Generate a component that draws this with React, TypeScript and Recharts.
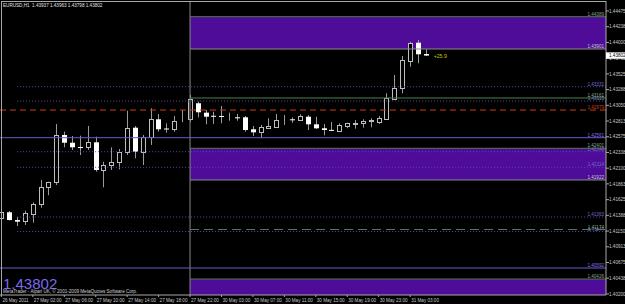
import React from 'react';
import { ComposedChart, Bar, XAxis, YAxis, ReferenceLine, ReferenceArea, ReferenceDot } from 'recharts';

// ---- data (EURUSD H1, 26 May 2011 22:00 .. 31 May 2011 05:00) ----
const opens = [
  1.41348, 1.41434, 1.41317, 1.41302, 1.41408, 1.41559, 1.41820, 1.41887, 1.42602, 1.42485,
  1.42420, 1.42416, 1.42491, 1.42073, 1.42153, 1.42189, 1.42340, 1.42712, 1.42349, 1.42576,
  1.42839, 1.42700, 1.42692, 1.42836, 1.42839, 1.43081, 1.42939, 1.42892, 1.42889, 1.42874,
  1.42869, 1.42869, 1.42688, 1.42652, 1.42703, 1.42727, 1.42836, 1.42839, 1.42828, 1.42878,
  1.42763, 1.42703, 1.42679, 1.42667, 1.42742, 1.42768, 1.42778, 1.42816, 1.42794, 1.42839,
  1.43146, 1.43307, 1.43724, 1.43996, 1.43825,
];
const highs = [
  1.41453, 1.41453, 1.41363, 1.41458, 1.41585, 1.41922, 1.41895, 1.42768, 1.42652, 1.42587,
  1.42591, 1.42738, 1.42576, 1.42198, 1.42416, 1.42390, 1.42969, 1.42738, 1.42602, 1.43005,
  1.42919, 1.42778, 1.42889, 1.42979, 1.43206, 1.43105, 1.42979, 1.42954, 1.43040, 1.42939,
  1.42919, 1.42889, 1.42738, 1.42753, 1.42854, 1.42919, 1.42904, 1.42869, 1.42914, 1.42904,
  1.42878, 1.42768, 1.42798, 1.42778, 1.42787, 1.42828, 1.42839, 1.42854, 1.42889, 1.43232,
  1.43508, 1.43795, 1.44011, 1.44037, 1.43896,
];
const lows = [
  1.41333, 1.41310, 1.41227, 1.41242, 1.41277, 1.41503, 1.41691, 1.41846, 1.42416, 1.42375,
  1.42299, 1.42375, 1.42047, 1.41811, 1.42073, 1.42083, 1.42299, 1.42250, 1.42148, 1.42451,
  1.42652, 1.42636, 1.42652, 1.42794, 1.42798, 1.42869, 1.42763, 1.42768, 1.42778, 1.42818,
  1.42818, 1.42652, 1.42587, 1.42552, 1.42697, 1.42718, 1.42753, 1.42787, 1.42818, 1.42677,
  1.42692, 1.42597, 1.42662, 1.42662, 1.42703, 1.42697, 1.42712, 1.42718, 1.42768, 1.42828,
  1.43138, 1.43232, 1.43634, 1.43685, 1.43795,
];
const closes = [
  1.41438, 1.41317, 1.41292, 1.41419, 1.41559, 1.41820, 1.41887, 1.42602, 1.42485, 1.42416,
  1.42413, 1.42491, 1.42073, 1.42153, 1.42189, 1.42340, 1.42712, 1.42349, 1.42576, 1.42839,
  1.42688, 1.42692, 1.42818, 1.42842, 1.43150, 1.42945, 1.42878, 1.42886, 1.42887, 1.42880,
  1.42866, 1.42677, 1.42642, 1.42718, 1.42738, 1.42828, 1.42840, 1.42836, 1.42889, 1.42763,
  1.42703, 1.42677, 1.42677, 1.42748, 1.42778, 1.42787, 1.42809, 1.42821, 1.42854, 1.43156,
  1.43307, 1.43735, 1.43996, 1.43821, 1.43802,
];

const timeTickIdx = [0, 4, 8, 12, 16, 20, 24, 28, 32, 36, 40, 44, 48, 52];
const timeLabels = [
  '26 May 2011', '27 May 02:00', '27 May 06:00', '27 May 10:00', '27 May 14:00', '27 May 18:00',
  '27 May 22:00', '30 May 03:00', '30 May 07:00', '30 May 11:00', '30 May 15:00', '30 May 19:00',
  '30 May 23:00', '31 May 03:00',
];

const priceTicks = [
  1.44475, 1.44238, 1.44000, 1.43763, 1.43525, 1.43288, 1.43050, 1.42813, 1.42575, 1.42338,
  1.42100, 1.41863, 1.41625, 1.41388, 1.41150, 1.40913, 1.40675, 1.40438, 1.40200,
];

const headerText = 'EURUSD,H1  1.43937 1.43963 1.43798 1.43802';
const copyrightText = 'MetaTrader - Alpari UK, \u00A9 2001-2009 MetaQuotes Software Corp.';
const profitText = '+25.9';

// chart objects (prices)
const objStartIdx = 24;
const dotStartIdx = 2;
const rectBands = [[1.44389, 1.43901], [1.42401, 1.41922], [1.40426, 1.401843]];
const greenLines = [1.44389, 1.43161, 1.42401, 1.40426];
const greyLines = [1.43901, 1.41922];
const dottedLines = [1.43331, 1.43115, 1.42349, 1.42114, 1.41363, 1.41144];
const greenDashed = [1.41174];
const purpleLines = [1.42561, 1.40592];
const redDashed = [1.42979];

// ---- layout / style ----
const X0 = -0.178;
const X1 = 76.92;
const Y0 = 1.401843;
const Y1 = 1.446261;
const FONT = 'Liberation Sans, Arial, sans-serif';
const SMALL = 4.6;
const FRAME = '#a8a8a8';
const WICK = '#9a9a9a';
const OUTLINE = '#bdbdbd';
const RECT = '#4e0c98';
const GREEN = '#4f7f4f';
const GREEN_TXT = '#86a886';
const GREY = '#8a8a8a';
const GREY_TXT = '#c8c8c8';
const DOT = '#5a4aa8';
const DOT_TXT = '#7a6ad0';
const PURPLE = '#6a5acd';
const PURPLE_TXT = '#8474e6';
const RED = '#d03c10';

const current = closes[closes.length - 1];
const data = opens.map((o, k) => ({ k, open: o, high: highs[k], low: lows[k], close: closes[k] }));
const fmt = (v: number) => v.toFixed(5);

const Candle = (props: any) => {
  const { x, y, width, height, payload } = props;
  if (payload == null || x == null || y == null) return null;
  const top = Math.min(y, y + height);
  const h = Math.abs(height);
  const { open, close, high, low } = payload;
  const span = high - low || 1e-9;
  const py = (v: number) => top + ((high - v) / span) * h;
  const cx = Math.round(x + width / 2) + 0.5;
  const yo = py(open);
  const yc = py(close);
  const bt = Math.min(yo, yc);
  const bb = Math.max(yo, yc);
  const bull = close >= open;
  return (
    <g>
      <line x1={cx} x2={cx} y1={top} y2={top + h} stroke={WICK} strokeWidth={1} />
      {bull ? (
        <rect x={cx - 2} y={Math.round(bt) + 0.5} width={4} height={Math.max(0, Math.round(bb) - Math.round(bt))}
          fill="#000" stroke={OUTLINE} strokeWidth={1} />
      ) : (
        <rect x={cx - 2.5} y={bt} width={5} height={Math.max(1, bb - bt)} fill="#ffffff" />
      )}
    </g>
  );
};

const LineLabel = (props: any) => {
  const { viewBox, txt, clr } = props;
  if (!viewBox) return null;
  return (
    <text x={viewBox.x + viewBox.width - 2} y={viewBox.y - 0.8} textAnchor="end" fontSize={SMALL}
      fill={clr} fontFamily={FONT}>{txt}</text>
  );
};

const ProfitLabel = (props: any) => {
  const { viewBox } = props;
  if (!viewBox) return null;
  return (
    <text x={viewBox.x} y={viewBox.y + 2} fontSize={5.2} fill="#c8c800" fontFamily={FONT}>{profitText}</text>
  );
};

const XTick = (props: any) => {
  const { x, y, payload } = props;
  const i = timeTickIdx.indexOf(payload.value);
  if (i < 0) return null;
  return (
    <text x={x + 1} y={y + 4.7} fontSize={SMALL} fill={GREY_TXT} fontFamily={FONT}>{timeLabels[i]}</text>
  );
};

const YTick = (props: any) => {
  const { x, y, payload } = props;
  const v = payload.value;
  if (v === current) {
    return (
      <g>
        <rect x={x - 3} y={y - 3.2} width={22} height={6.4} fill="#ffffff" />
        <text x={x} y={y + 1.7} fontSize={SMALL} fill="#000" fontFamily={FONT}>{fmt(v)}</text>
      </g>
    );
  }
  return <text x={x} y={y + 1.7} fontSize={SMALL} fill={GREY_TXT} fontFamily={FONT}>{fmt(v)}</text>;
};

const seg = (from: number, p: number) => [{ x: from, y: p }, { x: X1, y: p }];

export default function App() {
  return (
    <div style={{ position: 'absolute', left: 0, top: 0, width: 625, height: 304, background: '#000', overflow: 'hidden' }}>
      <ComposedChart width={625} height={304} data={data} margin={{ top: 1, right: 0, bottom: 0, left: 0 }}
        barCategoryGap="10%">
        <XAxis dataKey="k" type="number" domain={[X0, X1]} allowDataOverflow ticks={timeTickIdx} interval={0}
          tick={<XTick />} tickSize={2} tickMargin={0} tickLine={{ stroke: FRAME }} axisLine={{ stroke: FRAME }} height={9} />
        <YAxis orientation="right" type="number" domain={[Y0, Y1]} allowDataOverflow ticks={[...priceTicks, current]}
          interval={0} tick={<YTick />} width={19} tickSize={3} tickMargin={0} tickLine={{ stroke: FRAME }}
          axisLine={{ stroke: FRAME }} />
        {rectBands.map((b, i) => (
          <ReferenceArea key={'r' + i} x1={objStartIdx} x2={X1} y1={b[0]} y2={b[1]} fill={RECT} fillOpacity={1}
            stroke="none" ifOverflow="hidden" />
        ))}
        <ReferenceLine x={objStartIdx} stroke={GREY} strokeWidth={1} />
        {purpleLines.map((p, i) => (
          <ReferenceLine key={'p' + i} y={p} stroke={PURPLE} strokeWidth={1}
            label={<LineLabel txt={fmt(p)} clr={PURPLE_TXT} />} />
        ))}
        {redDashed.map((p, i) => (
          <ReferenceLine key={'rd' + i} y={p} stroke={RED} strokeWidth={1} strokeDasharray="6 4"
            label={<LineLabel txt={fmt(p)} clr={RED} />} />
        ))}
        {dottedLines.map((p, i) => (
          <ReferenceLine key={'d' + i} segment={seg(dotStartIdx, p)} stroke={DOT} strokeWidth={1} strokeDasharray="1 2"
            label={<LineLabel txt={fmt(p)} clr={DOT_TXT} />} />
        ))}
        {greyLines.map((p, i) => (
          <ReferenceLine key={'g' + i} segment={seg(objStartIdx, p)} stroke={GREY} strokeWidth={1}
            label={<LineLabel txt={fmt(p)} clr={GREY_TXT} />} />
        ))}
        {greenLines.map((p, i) => (
          <ReferenceLine key={'gr' + i} segment={seg(objStartIdx, p)} stroke={GREEN} strokeWidth={1}
            label={<LineLabel txt={fmt(p)} clr={GREEN_TXT} />} />
        ))}
        {greenDashed.map((p, i) => (
          <ReferenceLine key={'gd' + i} segment={seg(objStartIdx, p)} stroke={GREEN} strokeWidth={1} strokeDasharray="9 5"
            label={<LineLabel txt={fmt(p)} clr={GREEN_TXT} />} />
        ))}
        <Bar dataKey={(d: any) => [d.low, d.high]} shape={<Candle />} isAnimationActive={false} />
        <ReferenceDot x={55} y={current} r={0} fill="none" stroke="none" label={<ProfitLabel />} />
      </ComposedChart>
      <svg width={625} height={304} style={{ position: 'absolute', left: 0, top: 0, pointerEvents: 'none' }}>
        <line x1={1.5} x2={1.5} y1={1} y2={295} stroke={FRAME} strokeWidth={1} />
        <line x1={1} x2={606} y1={1.5} y2={1.5} stroke={FRAME} strokeWidth={1} />
        <text x={3} y={6.6} fontSize={SMALL} fill="#e0e0e0" fontFamily={FONT} style={{ whiteSpace: 'pre' }}>{headerText}</text>
        <text x={3} y={288.5} fontSize={15} fill="#7b68ee" fontFamily={FONT}>{fmt(current)}</text>
        <text x={3} y={293.4} fontSize={SMALL} fill="#d0d0d0" fontFamily={FONT}>{copyrightText}</text>
      </svg>
    </div>
  );
}
